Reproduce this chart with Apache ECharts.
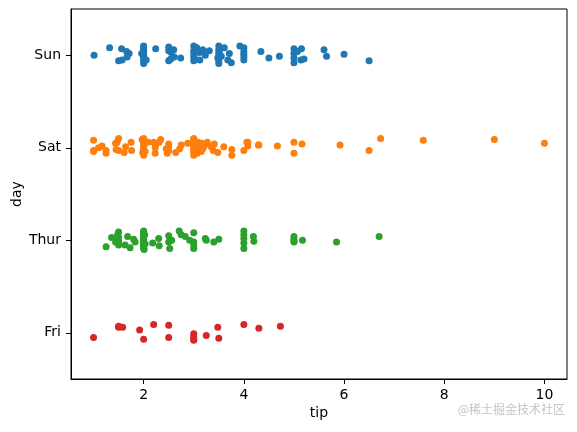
<!DOCTYPE html>
<html>
<head>
<meta charset="utf-8">
<script src="https://cdn.jsdelivr.net/npm/echarts@6/dist/echarts.min.js"></script>
<style>
  html, body { margin: 0; padding: 0; background: #fff; }
  #chart { width: 577px; height: 432px; }
</style>
</head>
<body>
<div id="chart"></div>
<script>
// categories, bottom to top (seaborn draws Sun on top)
const days = ['Fri', 'Thur', 'Sat', 'Sun']
const dayColors = ['#d62728', '#2ca02c', '#ff7f0e', '#1f77b4']
const xTicks = [2, 4, 6, 8, 10]

// tip values per day, jitter is the vertical offset in category units
const sunTips = [1.01, 1.32, 1.50, 1.56, 1.57, 1.66, 1.67, 1.71, 1.96,
  2.00, 2.00, 2.00, 2.00, 2.00, 2.00, 2.00, 2.00, 2.00, 2.00, 2.05, 2.24,
  2.50, 2.50, 2.50, 2.54, 2.55, 2.60, 2.61, 2.74,
  3.00, 3.00, 3.00, 3.00, 3.00, 3.02, 3.06, 3.11, 3.12, 3.18, 3.23, 3.31, 3.48,
  3.50, 3.50, 3.50, 3.50, 3.50, 3.50, 3.50, 3.51, 3.55, 3.61, 3.68, 3.71, 3.75, 3.92,
  4.00, 4.00, 4.00, 4.00, 4.00, 4.34, 4.50, 4.71,
  5.00, 5.00, 5.00, 5.00, 5.07, 5.14, 5.15, 5.20, 5.60, 5.65, 6.00, 6.50]
const sunJitter = [0.00, 0.08, -0.06, 0.07, -0.05, 0.04, -0.02, 0.02, 0.02,
  0.10, 0.09, 0.06, 0.03, 0.00, -0.02, -0.04, -0.06, -0.09, 0.05, -0.05, 0.07,
  0.09, 0.05, -0.06, -0.04, 0.03, 0.06, -0.02, -0.03,
  0.10, 0.05, -0.02, -0.06, 0.02, -0.04, 0.08, 0.03, -0.05, 0.06, 0.00, 0.05, -0.03,
  0.10, 0.06, 0.03, 0.00, -0.03, -0.06, -0.09, 0.04, -0.01, 0.08, -0.05, 0.02, -0.08, 0.10,
  0.08, 0.04, 0.01, -0.02, -0.05, 0.04, -0.03, -0.01,
  0.07, 0.02, -0.08, -0.03, 0.04, -0.05, 0.07, -0.04, 0.06, -0.01, 0.01, -0.06]

const satTips = [1.00, 1.00, 1.00, 1.10, 1.17, 1.25, 1.25, 1.44, 1.45, 1.47, 1.50, 1.50, 1.61, 1.64, 1.75, 1.76, 1.97, 1.98,
  2.00, 2.00, 2.00, 2.00, 2.00, 2.00, 2.00, 2.00, 2.00, 2.01, 2.03, 2.09, 2.20, 2.23, 2.23, 2.24, 2.31, 2.34, 2.45, 2.47, 2.50, 2.50, 2.50,
  2.64, 2.72, 2.75, 2.88,
  3.00, 3.00, 3.00, 3.00, 3.00, 3.00, 3.00, 3.00, 3.00, 3.00, 3.07, 3.08, 3.09, 3.14, 3.15, 3.16, 3.18, 3.21, 3.27, 3.35, 3.39, 3.41, 3.48, 3.60, 3.76, 3.76,
  4.00, 4.06, 4.08, 4.08, 4.29, 4.30, 4.67, 5.00, 5.00, 5.16, 5.92, 6.50, 6.73, 7.58, 9.00, 10.00]
const satJitter = [0.08, -0.03, -0.04, 0.00, 0.02, -0.06, -0.03, 0.05, -0.02, 0.06, 0.10, -0.03, -0.05, 0.01, 0.06, -0.03, 0.09, -0.05,
  0.10, 0.08, 0.04, 0.01, -0.02, -0.05, -0.08, 0.06, -0.01, 0.03, -0.04, 0.06, 0.06, 0.00, -0.06, 0.03, 0.06, 0.09, -0.01, -0.06, 0.04, -0.03, 0.01,
  -0.05, -0.01, 0.03, 0.05,
  0.10, 0.08, 0.04, 0.01, -0.02, -0.05, -0.08, 0.09, -0.03, 0.02, -0.06, 0.06, 0.00, 0.03, -0.04, 0.05, -0.01, 0.02, 0.06, 0.01, -0.03, 0.04, -0.05, 0.01, -0.02, -0.08,
  -0.03, 0.06, 0.02, 0.06, 0.03, 0.03, 0.02, 0.06, -0.06, 0.04, 0.03, -0.03, 0.10, 0.08, 0.09, 0.05]

const thurTips = [1.25, 1.36, 1.44, 1.48, 1.50, 1.50, 1.50, 1.50, 1.63, 1.68, 1.73, 1.80, 1.83,
  2.00, 2.00, 2.00, 2.00, 2.00, 2.00, 2.00, 2.00, 2.00, 2.00, 2.00, 2.00, 2.00, 2.01, 2.02, 2.03,
  2.18, 2.30, 2.31, 2.50, 2.50, 2.52, 2.56, 2.71, 2.75, 2.83, 2.92,
  3.00, 3.00, 3.00, 3.00, 3.23, 3.25, 3.40, 3.50,
  4.00, 4.00, 4.00, 4.00, 4.00, 4.19, 4.20, 5.00, 5.00, 5.00, 5.00, 5.17, 5.85, 6.70]
const thurJitter = [-0.07, 0.03, -0.02, 0.06, 0.09, 0.03, -0.05, -0.01, -0.05, 0.04, -0.08, 0.01, -0.02,
  0.10, 0.09, 0.08, 0.06, 0.04, 0.03, 0.01, -0.01, -0.02, -0.04, -0.05, -0.07, -0.09, -0.10, 0.06, -0.04,
  -0.03, 0.02, -0.06, 0.05, -0.02, -0.09, 0.00, 0.10, 0.06, 0.04, 0.00,
  -0.05, -0.09, 0.08, -0.02, 0.02, 0.00, -0.02, 0.01,
  0.10, 0.06, 0.02, -0.03, -0.09, 0.04, -0.01, 0.04, 0.01, -0.02, -0.01, 0.00, -0.02, 0.04]

const friTips = [1.00, 1.50, 1.50, 1.58, 1.92, 2.00, 2.20, 2.50, 2.50, 3.00, 3.00, 3.00, 3.00, 3.25, 3.48, 3.50, 4.00, 4.30, 4.73]
const friJitter = [-0.05, 0.06, 0.07, 0.06, 0.03, -0.07, 0.09, 0.08, -0.05, -0.01, -0.04, -0.08, -0.07, -0.03, 0.06, -0.06, 0.09, 0.05, 0.07]

const chart = echarts.init(document.getElementById('chart'))

function points(tips, jitter, idx) {
  return tips.map((t, i) => [t, idx + jitter[i]])
}

const groups = [
  { name: 'Sun', tips: sunTips, jitter: sunJitter },
  { name: 'Sat', tips: satTips, jitter: satJitter },
  { name: 'Thur', tips: thurTips, jitter: thurJitter },
  { name: 'Fri', tips: friTips, jitter: friJitter }
]

const font = 'DejaVu Sans'

chart.setOption({
  animation: false,
  backgroundColor: '#fff',
  textStyle: { fontFamily: font },
  grid: {
    left: 71, right: 10, top: 9, bottom: 53,
    outerBoundsMode: 'none',
    containLabel: false,
    show: true, borderColor: '#000', borderWidth: 1
  },
  xAxis: {
    type: 'value',
    min: 0.55,
    max: 10.45,
    name: 'tip',
    nameLocation: 'middle',
    nameGap: 27,
    nameMoveOverlap: false,
    nameTextStyle: { color: '#000', fontSize: 14, fontFamily: font },
    axisLine: { show: true, onZero: false, lineStyle: { color: '#000', width: 1 } },
    axisTick: { show: true, length: 5, lineStyle: { color: '#000' }, customValues: xTicks },
    axisLabel: { color: '#000', fontSize: 14, margin: 9, fontFamily: font, customValues: xTicks },
    splitLine: { show: false }
  },
  yAxis: {
    type: 'value',
    min: -0.5,
    max: 3.5,
    name: 'day',
    nameLocation: 'middle',
    nameGap: 47,
    nameMoveOverlap: false,
    nameTextStyle: { color: '#000', fontSize: 14, fontFamily: font },
    axisLine: { show: true, onZero: false, lineStyle: { color: '#000', width: 1 } },
    axisTick: { show: true, length: 5, lineStyle: { color: '#000' }, customValues: [0, 1, 2, 3] },
    axisLabel: {
      color: '#000', fontSize: 14, margin: 10, fontFamily: font,
      customValues: [0, 1, 2, 3],
      formatter: v => days[Math.round(v)]
    },
    splitLine: { show: false }
  },
  graphic: [{
    type: 'text',
    right: 12,
    top: 403,
    style: { text: '@稀土掘金技术社区', fill: '#c4c4c4', fontSize: 12, fontFamily: 'Noto Sans CJK SC' }
  }],
  series: groups.map(g => {
    const idx = days.indexOf(g.name)
    return {
      name: g.name,
      type: 'scatter',
      symbol: 'circle',
      symbolSize: 7,
      itemStyle: { color: dayColors[idx], opacity: 1 },
      data: points(g.tips, g.jitter, idx)
    }
  })
})
</script>
</body>
</html>
